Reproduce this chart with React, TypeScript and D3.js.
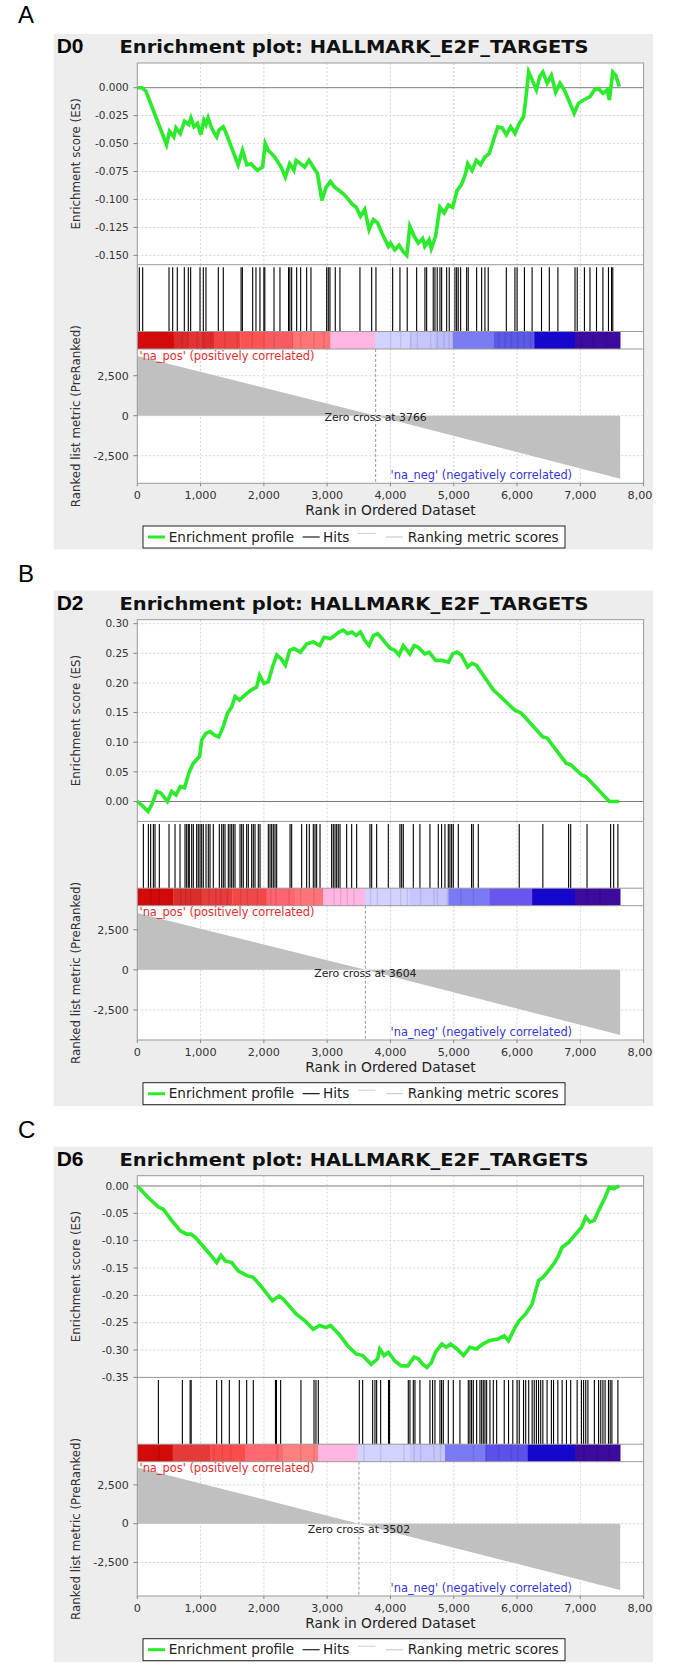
import React from 'react';
import * as d3 from 'd3';

// ---------------- DATA ----------------
const panelLetters = ['A', 'B', 'C'];
const datasetLabels = ['D0', 'D2', 'D6'];
const chartTitle = 'Enrichment plot: HALLMARK_E2F_TARGETS';
const xTicks = [0, 1000, 2000, 3000, 4000, 5000, 6000, 7000, 8000];
const rankedTicks = [-2500, 0, 2500];
const datasetSize = 7630;
const zeroCross = [3766, 3604, 3502];

const esTicksD0 = [0, -0.025, -0.05, -0.075, -0.1, -0.125, -0.15];
const esTicksD2 = [0, 0.05, 0.1, 0.15, 0.2, 0.25, 0.3];
const esTicksD6 = [0, -0.05, -0.1, -0.15, -0.2, -0.25, -0.3, -0.35];
const esDecimals = [3, 2, 2];
const esDomainD0 = [-0.1584, 0.0221];
const esDomainD2 = [-0.0336, 0.3067];
const esDomainD6 = [-0.35, 0.0188];
const rankedDomainD0 = [-4225, 4169];
const rankedDomainD2 = [-4375, 4000];
const rankedDomainD6 = [-4660, 3994];

const esProfileD0 = [
  [0, 0], [68, 0], [136, -0.003], [462, -0.051], [509, -0.039], [577, -0.044], [611, -0.036],
  [679, -0.041], [747, -0.03], [814, -0.033], [848, -0.027], [896, -0.035], [950, -0.032],
  [1004, -0.042], [1052, -0.029], [1086, -0.033], [1119, -0.027], [1167, -0.035], [1221, -0.041],
  [1255, -0.044], [1289, -0.038], [1357, -0.035], [1391, -0.039], [1594, -0.069], [1662, -0.056],
  [1730, -0.069], [1797, -0.068], [1899, -0.074], [1980, -0.071], [2021, -0.05], [2069, -0.056],
  [2170, -0.062], [2272, -0.071], [2340, -0.08], [2408, -0.068], [2475, -0.074], [2509, -0.065],
  [2577, -0.068], [2645, -0.071], [2713, -0.065], [2780, -0.071], [2848, -0.077], [2916, -0.101],
  [2984, -0.089], [3052, -0.084], [3119, -0.089], [3187, -0.092], [3255, -0.095], [3323, -0.099],
  [3391, -0.104], [3458, -0.107], [3526, -0.115], [3594, -0.109], [3662, -0.127], [3730, -0.118],
  [3797, -0.121], [3865, -0.13], [3967, -0.142], [4001, -0.139], [4069, -0.145], [4136, -0.141],
  [4204, -0.147], [4258, -0.15], [4306, -0.124], [4374, -0.133], [4441, -0.139], [4509, -0.135],
  [4543, -0.142], [4611, -0.136], [4645, -0.144], [4713, -0.133], [4781, -0.107], [4848, -0.112],
  [4916, -0.105], [4984, -0.107], [5052, -0.092], [5120, -0.087], [5187, -0.077], [5221, -0.068],
  [5289, -0.074], [5357, -0.065], [5425, -0.069], [5492, -0.062], [5560, -0.059], [5628, -0.047],
  [5696, -0.035], [5764, -0.036], [5831, -0.042], [5899, -0.035], [5967, -0.041], [6035, -0.032],
  [6103, -0.026], [6137, -0.011], [6184, 0.014], [6238, 0.007], [6306, -0.002], [6360, 0.01],
  [6408, 0.014], [6476, 0.004], [6543, 0.011], [6611, -0.004], [6679, 0.004], [6747, -0.002],
  [6815, -0.011], [6903, -0.023], [6970, -0.014], [7052, -0.011], [7154, -0.008], [7221, -0.002],
  [7289, -0.001], [7357, -0.005], [7425, -0.002], [7459, -0.011], [7513, 0.014], [7561, 0.011],
  [7615, 0.001],
];

const esProfileD2 = [
  [0, 0], [68, -0.006], [170, -0.017], [238, -0.003], [306, 0.017], [374, 0.014], [475, 0],
  [543, 0.017], [611, 0.011], [679, 0.025], [747, 0.023], [814, 0.048], [882, 0.064], [984, 0.076],
  [1018, 0.104], [1086, 0.115], [1153, 0.118], [1221, 0.112], [1289, 0.109], [1357, 0.126],
  [1425, 0.149], [1492, 0.16], [1546, 0.177], [1614, 0.171], [1696, 0.179], [1797, 0.188],
  [1885, 0.193], [1933, 0.213], [2001, 0.199], [2069, 0.202], [2136, 0.227], [2204, 0.247],
  [2272, 0.241], [2340, 0.23], [2408, 0.255], [2475, 0.258], [2577, 0.252], [2679, 0.266],
  [2780, 0.269], [2882, 0.263], [2950, 0.277], [3052, 0.275], [3119, 0.28], [3187, 0.286],
  [3255, 0.289], [3323, 0.283], [3391, 0.286], [3458, 0.28], [3526, 0.286], [3594, 0.272],
  [3662, 0.263], [3730, 0.28], [3797, 0.283], [3865, 0.275], [3933, 0.266], [4001, 0.258],
  [4069, 0.255], [4136, 0.247], [4204, 0.263], [4306, 0.249], [4374, 0.263], [4441, 0.26],
  [4543, 0.249], [4611, 0.252], [4713, 0.238], [4814, 0.238], [4916, 0.235], [4984, 0.249],
  [5052, 0.252], [5120, 0.247], [5221, 0.227], [5289, 0.233], [5357, 0.23], [5628, 0.188],
  [5967, 0.154], [6069, 0.149], [6408, 0.109], [6476, 0.107], [6781, 0.064], [6849, 0.062],
  [7018, 0.045], [7086, 0.042], [7459, 0], [7615, 0],
];

const esProfileD6 = [
  [0, 0], [170, -0.021], [340, -0.039], [407, -0.042], [543, -0.063], [679, -0.082], [780, -0.088],
  [848, -0.088], [916, -0.094], [1052, -0.112], [1187, -0.13], [1255, -0.14], [1323, -0.127],
  [1391, -0.137], [1492, -0.14], [1594, -0.155], [1730, -0.164], [1831, -0.167], [1967, -0.185],
  [2136, -0.21], [2238, -0.201], [2306, -0.207], [2509, -0.234], [2645, -0.246], [2780, -0.262],
  [2882, -0.255], [2984, -0.259], [3052, -0.255], [3187, -0.271], [3323, -0.292], [3458, -0.307],
  [3560, -0.31], [3696, -0.326], [3797, -0.316], [3831, -0.298], [3899, -0.31], [3967, -0.304],
  [4069, -0.32], [4170, -0.329], [4272, -0.329], [4374, -0.313], [4441, -0.316], [4509, -0.326],
  [4577, -0.332], [4645, -0.323], [4713, -0.304], [4814, -0.289], [4882, -0.295], [4950, -0.289],
  [5052, -0.298], [5154, -0.31], [5255, -0.295], [5357, -0.298], [5459, -0.289], [5560, -0.283],
  [5696, -0.28], [5797, -0.274], [5865, -0.283], [5967, -0.259], [6035, -0.246], [6137, -0.234],
  [6238, -0.216], [6340, -0.173], [6408, -0.167], [6476, -0.158], [6577, -0.143], [6645, -0.13],
  [6713, -0.112], [6815, -0.103], [6883, -0.094], [7018, -0.076], [7086, -0.057], [7154, -0.066],
  [7221, -0.063], [7289, -0.045], [7391, -0.021], [7459, -0.002], [7527, -0.005], [7615, 0],
];

const hitsD0 = [
  32, 85, 501, 559, 632, 743, 806, 843, 991, 1043, 1085, 1280, 1359, 1640, 1660, 1823, 1875, 1938,
  2000, 2015, 2160, 2254, 2390, 2410, 2439, 2518, 2581, 2676, 2744, 2992, 3018, 3044, 3128, 3202,
  3518, 3703, 3771, 4035, 4150, 4265, 4414, 4545, 4572, 4676, 4703, 4739, 4782, 4809, 4888, 4929,
  5019, 5046, 5071, 5109, 5204, 5229, 5362, 5441, 5493, 5545, 5831, 5967, 6001, 6117, 6238, 6387,
  6510, 6646, 6916, 6951, 7065, 7153, 7256, 7357, 7445, 7493, 7513,
];

const hitsD2 = [
  96, 175, 211, 254, 280, 348, 501, 596, 675, 754, 780, 806, 822, 859, 885, 938, 964, 991, 1017,
  1043, 1086, 1122, 1149, 1201, 1296, 1333, 1359, 1386, 1438, 1465, 1491, 1517, 1544, 1623, 1649,
  1675, 1728, 1754, 1807, 1833, 1860, 1912, 1939, 2070, 2097, 2123, 2149, 2176, 2202, 2413, 2439,
  2597, 2676, 2718, 2781, 2808, 2834, 2887, 3071, 3097, 3124, 3150, 3176, 3203, 3308, 3387, 3466,
  3676, 3703, 3782, 3966, 4150, 4177, 4203, 4361, 4466, 4624, 4756, 4808, 4861, 4914, 4940, 4967,
  4993, 5072, 5282, 5308, 5388, 6035, 6408, 6815, 6848, 7106, 7479, 7527, 7594,
];

const hitsD6 = [
  333, 712, 835, 851, 1254, 1333, 1454, 1612, 1728, 1833, 2183, 2199, 2265, 2586, 2792, 2823, 2860,
  3508, 3561, 3719, 3755, 3782, 3845, 3969, 3985, 4282, 4308, 4361, 4387, 4466, 4624, 4666, 4703,
  4782, 4808, 4835, 4914, 4993, 5098, 5230, 5256, 5282, 5309, 5362, 5414, 5441, 5467, 5493, 5520,
  5572, 5625, 5678, 5798, 5866, 5933, 6001, 6035, 6103, 6137, 6185, 6239, 6272, 6306, 6340, 6374,
  6408, 6475, 6543, 6577, 6645, 6713, 6781, 6848, 6950, 7018, 7052, 7086, 7120, 7222, 7289, 7323,
  7357, 7391, 7445, 7472, 7499, 7594,
];

const metricD0 = [[0, 3731], [3766, 0], [7630, -3938]];
const metricD2 = [[0, 3542], [3604, 0], [7630, -4063]];
const metricD6 = [[0, 3628], [3502, 0], [7630, -4274]];

// colour bands: [start rank, colour]
const colorBandsD0 = [
  [0, '#d20a0a'], [577, '#dc2a2a'], [800, '#e23434'], [1000, '#de2c2c'], [1221, '#f04444'],
  [1627, '#fb5252'], [2000, '#f85a62'], [2440, '#ff7474'], [3052, '#ffb6e2'], [3765, '#d2d2ff'],
  [4300, '#c6c6fc'], [4700, '#bdbdfb'], [4984, '#7b7bf2'], [5628, '#5a5ae6'], [6272, '#1508cc'],
  [6916, '#3c0a9c'],
];
const colorBandsD2 = [
  [0, '#d20a0a'], [570, '#dc2c2c'], [1000, '#e63c3c'], [1500, '#f24848'], [2044, '#ff6470'],
  [2500, '#ff7478'], [2939, '#ffb6e2'], [3597, '#d2d2ff'], [4300, '#c6c6fc'], [4914, '#7a7af5'],
  [5561, '#6a55ee'], [6238, '#1508cc'], [6916, '#3c0a9c'],
];
const colorBandsD6 = [
  [0, '#d20a0a'], [559, '#e43a3a'], [1149, '#fb4c4c'], [1702, '#ff6870'], [2281, '#ff8080'],
  [2860, '#ffb6e2'], [3492, '#d2d2ff'], [4300, '#c6c6fc'], [4861, '#7a7af5'], [5500, '#5c50ea'],
  [6170, '#1508cc'], [6916, '#3c0a9c'],
];

// darker stripes inside the colour bar (ranks)
const stripesD0 = [
  701, 791, 938, 1043, 1149, 1370, 1570, 1807, 1991, 2149, 2439, 2571, 2781, 2939, 3992, 4150,
  4308, 4414, 4624, 4730, 4835, 4914, 5700, 5800, 5900, 6000, 6100, 6200, 7000, 7200, 7400,
];
const stripesD2 = [
  201, 333, 675, 754, 833, 991, 1122, 1228, 1307, 1412, 1623, 1728, 1886, 2097, 2176, 2386, 2571,
  2781, 3097, 3203, 3308, 3413, 3676, 3782, 3992, 4150, 4256, 4466, 4677, 4730, 4888, 5100, 5300,
  7100, 7300,
];
const stripesD6 = [
  333, 1201, 1333, 1465, 2202, 2281, 2571, 2781, 3571, 3834, 4203, 4361, 4466, 4677, 4782, 5300,
  5500, 5700, 5900, 6000, 7050, 7250, 7450,
];

const esProfiles = [esProfileD0, esProfileD2, esProfileD6];
const hitsList = [hitsD0, hitsD2, hitsD6];
const metrics = [metricD0, metricD2, metricD6];
const colorBands = [colorBandsD0, colorBandsD2, colorBandsD6];
const stripesList = [stripesD0, stripesD2, stripesD6];
const esTicks = [esTicksD0, esTicksD2, esTicksD6];
const esDomains = [esDomainD0, esDomainD2, esDomainD6];
const rankedDomains = [rankedDomainD0, rankedDomainD2, rankedDomainD6];

// ---------------- LAYOUT ----------------
const W = 674;
const H = 1666;
const panelTops = [34, 590.7, 1146.7];
const letterBaselines = [23.3, 581.7, 1138.3];
const PANEL_L = 53.6;
const PANEL_R = 653;
const PL = 137.3;
const PR = 643.6;
const ES_T = 29;
const ES_B = 230.7;
const HIT_B = 297.5;
const CB_B = 315;
const RK_B = 449.3;
const GRID = '#d6d6d6';
const FRAME = '#9a9a9a';
const FONT = "'DejaVu Sans', Verdana, sans-serif";

const fmtComma = d3.format(',d');
const fixMinus = (s: string) => s.replace('\u2212', '-');

function bandColorAt(bands: (string | number)[][], r: number) {
  let c = bands[0][1] as string;
  for (const b of bands) if ((b[0] as number) <= r) c = b[1] as string;
  return c;
}

function Panel({ i }: { i: number }) {
  const top = panelTops[i];
  const x = d3.scaleLinear().domain([0, 8000]).range([PL, PR]);
  const yEs = d3.scaleLinear().domain(esDomains[i]).range([ES_B, ES_T]);
  const yRk = d3.scaleLinear().domain(rankedDomains[i]).range([RK_B, CB_B]);
  const esLine = d3
    .line<number[]>()
    .x((d) => x(d[0]))
    .y((d) => yEs(d[1]));
  const area = d3
    .area<number[]>()
    .x((d) => x(d[0]))
    .y0(() => yRk(0))
    .y1((d) => yRk(d[1]));
  const fmtEs = d3.format('.' + esDecimals[i] + 'f');
  const bands = colorBands[i];
  const zc = x(zeroCross[i]);
  const gridX = xTicks.slice(1, -1);
  const clipId = 'panelclip' + i;

  return (
    <g transform={`translate(0,${top})`}>
      <defs>
        <clipPath id={clipId}>
          <rect x={0} y={-5} width={PANEL_R} height={530} />
        </clipPath>
      </defs>
      <g clipPath={`url(#${clipId})`}>
        <rect x={PANEL_L} y={0} width={PANEL_R - PANEL_L} height={515.5} fill="#ededed" />
        <text x={56.7} y={19.3} fontFamily="'Liberation Sans', Arial, sans-serif" fontWeight="bold" fontSize={21} fill="#000">
          {datasetLabels[i]}
        </text>
        <text x={119.5} y={19.3} fontFamily={FONT} fontWeight="bold" fontSize={18} fill="#111" textLength={469} lengthAdjust="spacingAndGlyphs">
          {chartTitle}
        </text>

        <rect x={PL} y={ES_T} width={PR - PL} height={RK_B - ES_T} fill="#fff" />

        {gridX.map((t) => (
          <line key={'gx' + t} x1={x(t)} x2={x(t)} y1={ES_T} y2={ES_B} stroke={GRID} strokeDasharray="2,2" />
        ))}
        {esTicks[i].filter((t) => t !== 0).map((t) => (
          <line key={'gy' + t} x1={PL} x2={PR} y1={yEs(t)} y2={yEs(t)} stroke={GRID} strokeDasharray="2,2" />
        ))}
        <line x1={PL} x2={PR} y1={yEs(0)} y2={yEs(0)} stroke="#7a7a7a" strokeWidth={1} />

        {gridX.map((t) => (
          <line key={'hx' + t} x1={x(t)} x2={x(t)} y1={ES_B} y2={HIT_B} stroke={GRID} strokeDasharray="2,2" />
        ))}
        {gridX.map((t) => (
          <line key={'rx' + t} x1={x(t)} x2={x(t)} y1={CB_B} y2={RK_B} stroke={GRID} strokeDasharray="2,2" />
        ))}
        {rankedTicks.map((t) => (
          <line key={'ry' + t} x1={PL} x2={PR} y1={yRk(t)} y2={yRk(t)} stroke={GRID} strokeDasharray="2,2" />
        ))}

        <path d={esLine(esProfiles[i] as number[][]) || ''} fill="none" stroke="#2aec2a" strokeWidth={3.6} strokeLinejoin="miter" />

        {hitsList[i].map((h, k) => (
          <line key={'h' + k} x1={x(h)} x2={x(h)} y1={ES_B + 2.5} y2={HIT_B} stroke="#000" strokeWidth={1.1} />
        ))}

        {bands.map((b, k) => {
          const s = b[0] as number;
          const e = k < bands.length - 1 ? (bands[k + 1][0] as number) : datasetSize;
          return (
            <rect key={'cb' + k} x={x(s)} y={HIT_B} width={x(e) - x(s) + 0.3} height={CB_B - HIT_B} fill={b[1] as string} />
          );
        })}
        {stripesList[i].map((r, k) => (
          <rect
            key={'st' + k}
            x={x(r)}
            y={HIT_B}
            width={1.4}
            height={CB_B - HIT_B}
            fill={String(d3.color(bandColorAt(bands, r))!.darker(0.35))}
            opacity={0.8}
          />
        ))}
        <line x1={PL} x2={PR} y1={HIT_B} y2={HIT_B} stroke={FRAME} />
        <line x1={PL} x2={PR} y1={CB_B} y2={CB_B} stroke={FRAME} />

        <path d={area(metrics[i] as number[][]) || ''} fill="#c0c0c0" />
        <line x1={zc} x2={zc} y1={CB_B} y2={RK_B} stroke="#9a9a9a" strokeDasharray="3,2" />
        <text x={zc} y={CB_B + 71.5} textAnchor="middle" fontFamily={FONT} fontSize={10.9} fill="#222">
          {'Zero cross at ' + zeroCross[i]}
        </text>
        <text x={139.5} y={CB_B + 10.8} fontFamily={FONT} fontSize={11.4} fill="#ee2b2b">
          'na_pos' (positively correlated)
        </text>
        <text x={390.6} y={RK_B - 4.4} fontFamily={FONT} fontSize={11.4} fill="#3535e8">
          'na_neg' (negatively correlated)
        </text>

        <rect x={PL} y={ES_T} width={PR - PL} height={RK_B - ES_T} fill="none" stroke={FRAME} />
        <line x1={PL} x2={PR} y1={ES_B} y2={ES_B} stroke={FRAME} />

        {esTicks[i].map((t) => (
          <g key={'et' + t}>
            <line x1={PL - 4} x2={PL} y1={yEs(t)} y2={yEs(t)} stroke="#888" />
            <text x={128.8} y={yEs(t) + 3.8} textAnchor="end" fontFamily={FONT} fontSize={10.5} fill="#333">
              {fixMinus(fmtEs(t))}
            </text>
          </g>
        ))}
        <text
          transform={`translate(80,${(ES_T + ES_B) / 2}) rotate(-90)`}
          textAnchor="middle"
          fontFamily={FONT}
          fontSize={11.8}
          fill="#333"
        >
          Enrichment score (ES)
        </text>

        {rankedTicks.map((t) => (
          <g key={'rt' + t}>
            <line x1={PL - 4} x2={PL} y1={yRk(t)} y2={yRk(t)} stroke="#888" />
            <text x={128.8} y={yRk(t) + 3.8} textAnchor="end" fontFamily={FONT} fontSize={11} fill="#333">
              {fixMinus(fmtComma(t))}
            </text>
          </g>
        ))}
        <text
          transform={`translate(80,${(CB_B + RK_B) / 2}) rotate(-90)`}
          textAnchor="middle"
          fontFamily={FONT}
          fontSize={11.8}
          fill="#333"
        >
          Ranked list metric (PreRanked)
        </text>

        {xTicks.map((t) => (
          <g key={'xt' + t}>
            <line x1={x(t)} x2={x(t)} y1={RK_B} y2={RK_B + 3} stroke="#888" />
            <text x={x(t)} y={RK_B + 15.8} textAnchor="middle" fontFamily={FONT} fontSize={11.2} fill="#333">
              {fmtComma(t)}
            </text>
          </g>
        ))}
        <text x={(PL + PR) / 2} y={RK_B + 32} textAnchor="middle" fontFamily={FONT} fontSize={13.8} fill="#222">
          Rank in Ordered Dataset
        </text>

        <rect x={143} y={492} width={422} height={22} fill="#fff" stroke="#222" strokeWidth={1} />
        <line x1={148} x2={165} y1={503} y2={503} stroke="#2aec2a" strokeWidth={3} />
        <text x={168.7} y={507.8} fontFamily={FONT} fontSize={13.6} fill="#222">Enrichment profile</text>
        <line x1={302.6} x2={319.7} y1={503} y2={503} stroke="#222" strokeWidth={1.2} />
        <text x={323} y={507.8} fontFamily={FONT} fontSize={13.6} fill="#222">Hits</text>
        <line x1={358} x2={375.5} y1={499.5} y2={499.5} stroke="#cfcfcf" strokeWidth={1} />
        <line x1={386} x2={403} y1={503} y2={503} stroke="#cfcfcf" strokeWidth={1.2} />
        <text x={407.7} y={507.8} fontFamily={FONT} fontSize={13.6} fill="#222">Ranking metric scores</text>
      </g>
    </g>
  );
}

export default function App() {
  return (
    <svg
      width={W}
      height={H}
      viewBox={`0 0 ${W} ${H}`}
      style={{ position: 'absolute', left: 0, top: 0, background: '#fff' }}
    >
      <rect x={0} y={0} width={W} height={H} fill="#fff" />
      {panelLetters.map((l, i) => (
        <text key={l} x={18} y={letterBaselines[i]} fontFamily="'Liberation Sans', Arial, sans-serif" fontSize={24} fill="#000">
          {l}
        </text>
      ))}
      {[0, 1, 2].map((i) => (
        <Panel key={i} i={i} />
      ))}
    </svg>
  );
}
